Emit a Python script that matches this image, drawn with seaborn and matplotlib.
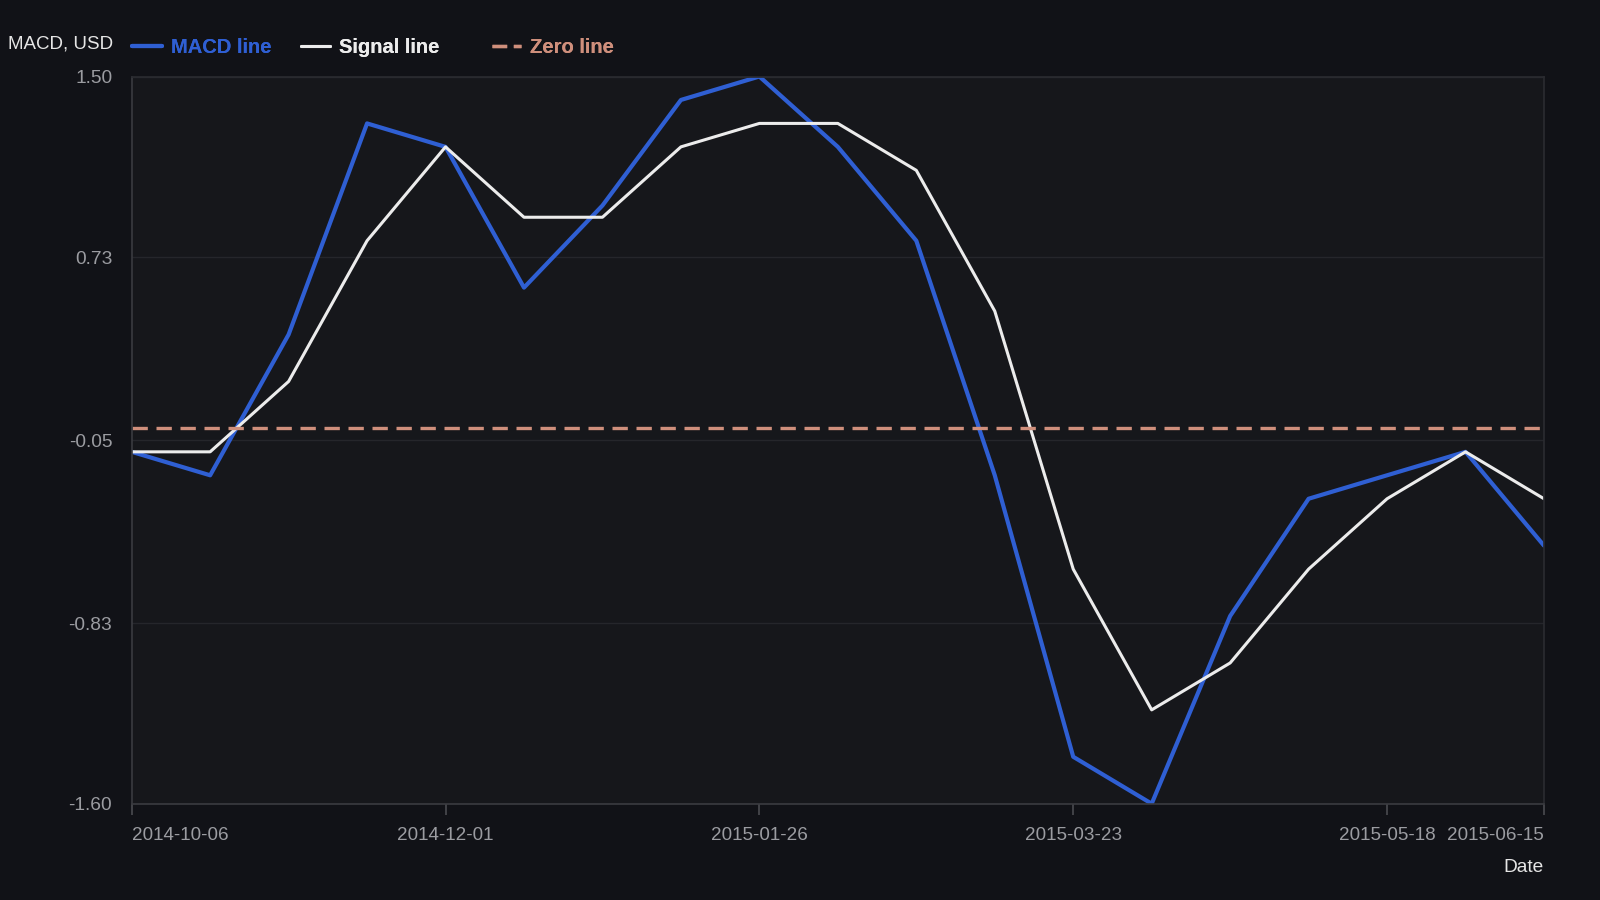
import pandas as pd
import matplotlib.pyplot as plt
from matplotlib.lines import Line2D
import seaborn as sns

# Data (biweekly points)
dates = ['2014-10-06', '2014-10-20', '2014-11-03', '2014-11-17', '2014-12-01',
         '2014-12-15', '2014-12-29', '2015-01-12', '2015-01-26', '2015-02-09',
         '2015-02-23', '2015-03-09', '2015-03-23', '2015-04-06', '2015-04-20',
         '2015-05-04', '2015-05-18', '2015-06-01', '2015-06-15']
macd = [-0.10, -0.20, 0.40, 1.30, 1.20, 0.60, 0.95, 1.40, 1.50, 1.20,
        0.80, -0.20, -1.40, -1.60, -0.80, -0.30, -0.20, -0.10, -0.50]
signal = [-0.10, -0.10, 0.20, 0.80, 1.20, 0.90, 0.90, 1.20, 1.30, 1.30,
          1.10, 0.50, -0.60, -1.20, -1.00, -0.60, -0.30, -0.10, -0.30]
zero_level = 0.0
y_ticks = [1.50, 0.73, -0.05, -0.83, -1.60]
x_ticks = ['2014-10-06', '2014-12-01', '2015-01-26', '2015-03-23', '2015-05-18', '2015-06-15']

df = pd.DataFrame({'Date': pd.to_datetime(dates), 'MACD': macd, 'Signal': signal})

bg = '#111217'
panel = '#16171b'
grid_c = '#25262b'
tick_c = '#9b9ca1'
blue = '#2f5fd3'
white = '#ececec'
salmon = '#cf8f7c'

sns.set_theme(style='dark')
plt.rcParams['font.family'] = ['Liberation Sans', 'DejaVu Sans']

fig = plt.figure(figsize=(16, 9), dpi=100, facecolor=bg)
ax = fig.add_axes([0.0823, 0.107, 0.8827, 0.808])
ax.set_facecolor(panel)

sns.lineplot(data=df, x='Date', y='MACD', ax=ax, color=blue, linewidth=3, label='MACD line')
sns.lineplot(data=df, x='Date', y='Signal', ax=ax, color=white, linewidth=2.2, label='Signal line')
ax.axhline(zero_level, color=salmon, linewidth=2.4, linestyle=(0, (4.6, 2.6)), label='Zero line')

ax.set_xlim(df['Date'].iloc[0], df['Date'].iloc[-1])
ax.set_ylim(min(y_ticks), max(y_ticks))
ax.set_yticks(y_ticks)
ax.set_yticklabels([f'{v:.2f}' for v in y_ticks])
ax.set_xticks(pd.to_datetime(x_ticks))
ax.set_xticklabels(x_ticks)
labels = ax.get_xticklabels()
labels[0].set_ha('left')
labels[-1].set_ha('right')

ax.grid(axis='y', color=grid_c, linewidth=1)
ax.grid(axis='x', visible=False)
ax.tick_params(axis='y', colors=tick_c, labelsize=13.8, length=0, pad=14)
ax.tick_params(axis='x', colors='#4a4b50', labelcolor=tick_c, labelsize=13.6,
               length=8, width=1.2, direction='out', pad=9, bottom=True)
for side in ['left', 'bottom']:
    ax.spines[side].set_color('#3a3b40')
    ax.spines[side].set_linewidth(1.2)
ax.spines['top'].set_color('#2a2b30')
ax.spines['right'].set_color('#2a2b30')

ax.set_xlabel('')
ax.set_ylabel('')
ax.get_legend().remove()

fig.text(0.005, 0.951, 'MACD, USD', color='#e6e6e6', fontsize=13.5, va='center', ha='left')
fig.text(0.965, 0.036, 'Date', color='#e6e6e6', fontsize=13.8, va='center', ha='right')

# one legend per entry, so the uneven gaps of the original can be kept
handles, names = ax.get_legend_handles_labels()
handles[2] = Line2D([], [], color=salmon, linewidth=2.4, linestyle=(0, (4.4, 2.0)))
anchors = [0.0714, 0.1767, 0.296]
for h, n, xa in zip(handles, names, anchors):
    leg = fig.legend([h], [n], loc='center left', bbox_to_anchor=(xa, 0.947),
                     frameon=False, labelcolor='linecolor', handlelength=1.45,
                     handletextpad=0.45, prop={'weight': 'bold', 'size': 14.5})
    fig.add_artist(leg)

fig.savefig('out.png', dpi=100, facecolor=bg)
